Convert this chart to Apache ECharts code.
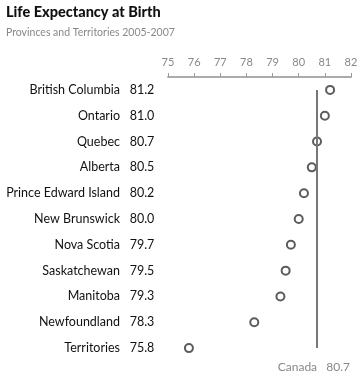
<!DOCTYPE html>
<html><head><meta charset="utf-8">
<script src="https://cdn.jsdelivr.net/npm/echarts@6/dist/echarts.min.js"></script>
<style>html,body{margin:0;padding:0;background:#fff}#c{width:363px;height:380px}</style>
</head><body><div id="c"></div>
<script>
var categories = ['British Columbia','Ontario','Quebec','Alberta','Prince Edward Island','New Brunswick','Nova Scotia','Saskatchewan','Manitoba','Newfoundland','Territories'];
var values = [81.2, 81.0, 80.7, 80.5, 80.2, 80.0, 79.7, 79.5, 79.3, 78.3, 75.8];
var canada = 80.7;
var xTicks = [75, 76, 77, 78, 79, 80, 81, 82];
var FONT = 'Lato, "Open Sans", sans-serif';
var chart = echarts.init(document.getElementById('c'));
chart.setOption({
  animation: false,
  title: [{
    text: 'Life Expectancy at Birth',
    subtext: 'Provinces and Territories 2005-2007',
    left: 1, top: 0, itemGap: 7,
    textStyle: {fontFamily: FONT, fontWeight: 900, fontSize: 14.5, color: '#111'},
    subtextStyle: {fontFamily: FONT, fontSize: 10.5, color: '#888'}
  }],
  graphic: [{
    type: 'text', right: 13, top: 361,
    style: {text: 'Canada   ' + canada.toFixed(1), fontFamily: FONT, fontSize: 12, fill: '#888'}
  }],
  grid: {left: 168, right: 12, top: 77, height: 284},
  xAxis: {
    type: 'value', position: 'top', min: xTicks[0], max: xTicks[xTicks.length - 1], interval: 1,
    axisLine: {show: true, lineStyle: {color: '#aaa', width: 2}},
    axisTick: {show: true, length: 4, lineStyle: {color: '#999'}},
    axisLabel: {color: '#888', fontFamily: FONT, fontSize: 11, margin: 9},
    splitLine: {show: false}
  },
  yAxis: {
    type: 'category', data: categories, inverse: true,
    axisLine: {show: false}, axisTick: {show: false},
    axisLabel: {
      margin: 11,
      formatter: function (v, i) { return '{n|' + v + '}{g| }{v|' + values[i].toFixed(1) + '}'; },
      rich: {
        n: {fontFamily: FONT, fontSize: 12.5, color: '#111', align: 'right'},
        g: {fontSize: 12.5, width: 7},
        v: {fontFamily: FONT, fontSize: 12.5, color: '#111', width: 30, align: 'left'}
      }
    }
  },
  series: [{
    type: 'scatter', data: values, symbol: 'circle', symbolSize: 8,
    itemStyle: {color: '#fff', borderColor: '#333', borderWidth: 2},
    markLine: {
      symbol: 'none', silent: true,
      lineStyle: {color: '#777', width: 2, type: 'solid'},
      label: {show: false},
      data: [[{coord: [canada, categories[0]]}, {coord: [canada, categories[categories.length - 1]]}]]
    }
  }]
});
</script></body></html>
